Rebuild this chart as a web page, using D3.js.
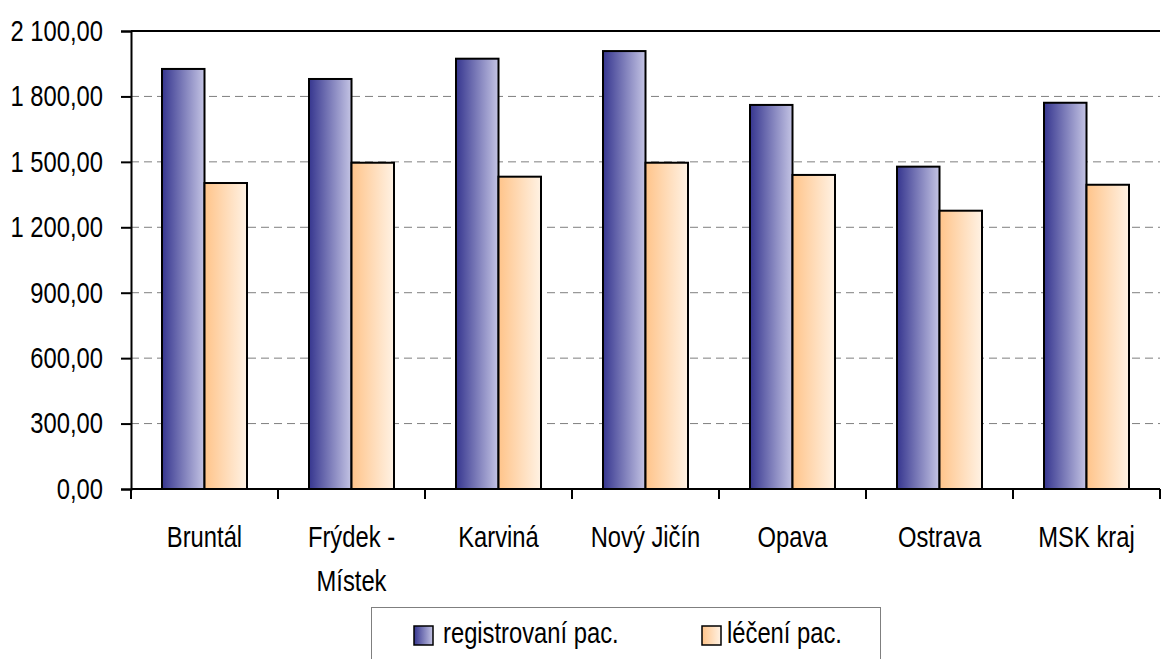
<html>
<head>
<meta charset="utf-8">
<title>Pacienti</title>
<style>
body { margin: 0; background: #ffffff; }
svg { display: block; }
svg text { font-family: "Liberation Sans", Arial, sans-serif; fill: #000; }
</style>
</head>
<body>
<svg width="1162" height="659"></svg>
<script src="https://d3js.org/d3.v7.min.js"></script>
<script>
// data
var categories = ["Bruntál", "Frýdek - Místek", "Karviná", "Nový Jičín", "Opava", "Ostrava", "MSK kraj"];
var registrovani = [1926, 1880, 1973, 2008, 1761, 1478, 1771];
var leceni = [1403, 1496, 1432, 1496, 1440, 1276, 1395];
var seriesNames = ["registrovaní pac.", "léčení pac."];
var yTicks = [0, 300, 600, 900, 1200, 1500, 1800, 2100];

var svg = d3.select("svg");
var mLeft = 131, mRight = 1160, mTop = 31, mBottom = 489;
var fs = 29, narrow = 0.82; // Arial Narrow look: wide font squeezed horizontally

var x = d3.scaleBand().domain(categories).range([mLeft, mRight]);
var y = d3.scaleLinear().domain([0, 2100]).range([mBottom, mTop]);
var inner = d3.scaleBand().domain([0, 1]).range([0, 85]);

var fmt = function(v) {
  var s = d3.format(",.2f")(v);
  return s.replace(/,/g, " ").replace(".", ",");
};

var defs = svg.append("defs");
function grad(id, c0, c1) {
  var g = defs.append("linearGradient").attr("id", id)
      .attr("x1", "0%").attr("x2", "100%").attr("y1", "0%").attr("y2", "0%");
  g.append("stop").attr("offset", "0%").attr("stop-color", c0);
  g.append("stop").attr("offset", "100%").attr("stop-color", c1);
}
grad("gBlue", "#36368f", "#c4c4e4");
grad("gOrange", "#ffc48a", "#fff2e4");
var fills = ["url(#gBlue)", "url(#gOrange)"];

// gridlines
svg.append("g").selectAll("line")
  .data(yTicks.filter(function(d) { return d > 0 && d < 2100; }))
  .enter().append("line")
    .attr("x1", mLeft).attr("x2", mRight)
    .attr("y1", function(d) { return y(d); })
    .attr("y2", function(d) { return y(d); })
    .attr("stroke", "#7f7f7f").attr("stroke-width", 1)
    .attr("stroke-dasharray", "8,5");

// top frame line
svg.append("line")
    .attr("x1", mLeft).attr("x2", mRight)
    .attr("y1", y(2100)).attr("y2", y(2100))
    .attr("stroke", "#000").attr("stroke-width", 2);

// bars
var rows = categories.map(function(c, i) { return {cat: c, vals: [registrovani[i], leceni[i]]}; });
var groups = svg.append("g").selectAll("g")
  .data(rows).enter().append("g")
    .attr("transform", function(d) { return "translate(" + (x(d.cat) + x.bandwidth() / 2 - 42.5) + ",0)"; });

groups.selectAll("rect")
  .data(function(d) { return d.vals; })
  .enter().append("rect")
    .attr("x", function(d, i) { return inner(i); })
    .attr("width", inner.bandwidth())
    .attr("y", function(d) { return y(d); })
    .attr("height", function(d) { return mBottom - y(d); })
    .attr("fill", function(d, i) { return fills[i]; })
    .attr("stroke", "#000").attr("stroke-width", 2);

// y axis
var yAxis = svg.append("g")
    .attr("transform", "translate(" + mLeft + ",0)")
    .call(d3.axisLeft(y).tickValues(yTicks).tickSize(10).tickFormat(fmt));
yAxis.attr("font-family", null).attr("font-size", null);
yAxis.selectAll("text")
    .style("font-size", fs + "px")
    .attr("x", -28 / narrow)
    .attr("transform", "scale(" + narrow + ",1)");
yAxis.selectAll("line, path").attr("stroke", "#000").attr("stroke-width", 2);

// x axis
var xAxis = svg.append("g")
    .attr("transform", "translate(0," + mBottom + ")")
    .call(d3.axisBottom(x).tickSize(0).tickFormat(""));
xAxis.select("path").attr("stroke", "#000").attr("stroke-width", 2).attr("d", "M" + mLeft + ",0H" + mRight);

svg.append("g").selectAll("line")
  .data(categories.concat(["end"]))
  .enter().append("line")
    .attr("x1", function(d, i) { return mLeft + i * x.step(); })
    .attr("x2", function(d, i) { return mLeft + i * x.step(); })
    .attr("y1", mBottom).attr("y2", mBottom + 10)
    .attr("stroke", "#000").attr("stroke-width", 2);

var labels = svg.append("g").selectAll("text")
  .data(categories).enter().append("text")
    .attr("transform", function(d) {
      return "translate(" + (x(d) + x.bandwidth() / 2) + ",547) scale(" + narrow + ",1)";
    })
    .attr("text-anchor", "middle")
    .style("font-size", fs + "px");
labels.each(function(d) {
  var t = d3.select(this);
  var parts = d === "Frýdek - Místek" ? ["Frýdek -", "Místek"] : [d];
  parts.forEach(function(p, i) {
    t.append("tspan").attr("x", 0).attr("dy", i === 0 ? 0 : 44).text(p);
  });
});

// legend
var lg = svg.append("g");
lg.append("rect")
    .attr("x", 371.5).attr("y", 607.5).attr("width", 509).attr("height", 70)
    .attr("fill", "#fff").attr("stroke", "#7f7f7f").attr("stroke-width", 1);
var lx = [414, 702], tx = [443, 727];
seriesNames.forEach(function(n, i) {
  lg.append("rect")
      .attr("x", lx[i]).attr("y", 626).attr("width", 19).attr("height", 19)
      .attr("fill", fills[i]).attr("stroke", "#000").attr("stroke-width", 1.5);
  lg.append("text")
      .attr("transform", "translate(" + tx[i] + ",643) scale(" + narrow + ",1)")
      .style("font-size", fs + "px").text(n);
});
</script>
</body>
</html>
